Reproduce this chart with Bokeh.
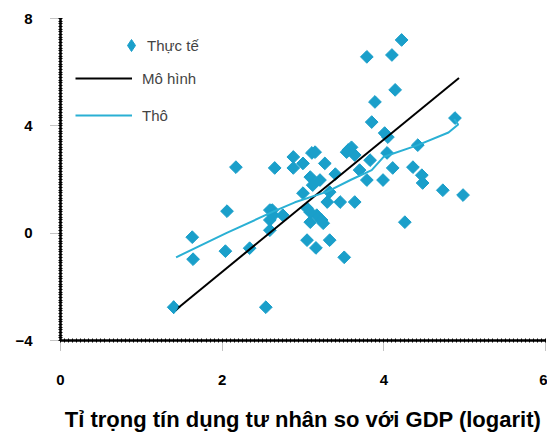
from bokeh.plotting import figure
from bokeh.models import Range1d, Legend, LegendItem, FixedTicker
from bokeh.embed import file_html
from bokeh.resources import INLINE
import math

# Observed points (x: log private credit / GDP, y)
actual_x = [1.40, 1.63, 1.64, 2.06, 2.04, 2.34, 2.54, 2.17, 2.65, 2.62,
            2.88, 2.88, 3.11, 3.00, 3.27, 3.09, 3.21, 3.56, 3.64, 3.83,
            3.70, 3.99, 3.79, 4.05, 3.33, 3.30, 3.46, 3.64, 2.59, 2.63,
            2.75, 2.59, 3.05, 3.17, 3.23, 3.05, 3.16, 3.33, 3.00, 3.12,
            3.51, 4.26, 3.09, 3.25, 3.09, 4.48, 4.73, 4.98, 4.88, 4.42,
            4.01, 4.11, 4.36, 4.47, 4.22, 3.79, 4.10, 4.14, 3.89, 3.85,
            3.60, 4.04, 2.59, 3.54, 3.15, 3.40]
actual_y = [-2.76, -0.15, -0.97, 0.82, -0.67, -0.56, -2.76, 2.46, 2.43, 0.86,
            2.84, 2.43, 2.99, 2.60, 2.60, 2.09, 1.98, 3.10, 2.91, 2.72,
            2.35, 1.98, 1.98, 3.58, 1.53, 1.16, 1.16, 1.16, 0.86, 0.67,
            0.67, 0.49, 0.93, 0.67, 0.49, -0.26, -0.55, -0.26, 1.49, 1.79,
            -0.90, 0.41, 0.41, 0.37, 0.78, 1.87, 1.60, 1.42, 4.29, 3.28,
            3.73, 2.43, 2.46, 2.16, 7.20, 6.57, 6.64, 5.34, 4.89, 4.14,
            3.20, 2.99, 0.11, 3.02, 3.02, 2.20]

# Model line
model_x = [1.42, 4.93]
model_y = [-2.87, 5.78]

# Raw fit line
raw_x = [1.43, 2.05, 2.63, 2.90, 3.30, 3.60, 3.85, 4.00, 4.42, 4.80, 4.92, 4.87]
raw_y = [-0.90, 0.00, 0.80, 1.15, 1.55, 2.00, 2.35, 2.85, 3.28, 3.75, 4.05, 4.25]

x_ticks = [0, 2, 4, 6]
y_ticks = [-4, 0, 4, 8]
x_label = "Tỉ trọng tín dụng tư nhân so với GDP (logarit)"
labels = ["Thực tế", "Mô hình", "Thô"]

FONT = "Liberation Sans"
BLUE = "#1a9fca"
LBLUE = "#2ab0d4"

p = figure(width=547, height=437, output_backend="svg", toolbar_location=None,
           x_range=Range1d(0, 6), y_range=Range1d(-4, 8),
           min_border_left=60, min_border_top=18, min_border_right=2,
           min_border_bottom=10)
p.frame_width = 485
p.frame_height = 322
p.outline_line_color = None
p.grid.visible = False
p.background_fill_color = "white"

r_pts = p.scatter(actual_x, actual_y, marker="square", size=9, angle=math.pi / 4,
                  fill_color=BLUE, line_color=BLUE)
r_model = p.line(model_x, model_y, line_color="black", line_width=2)
r_raw = p.line(raw_x, raw_y, line_color=LBLUE, line_width=2)
# legend proxy glyph (drawn over the first observed point)
r_proxy = p.scatter(actual_x[:1], actual_y[:1], marker="diamond", size=13,
                    fill_color=BLUE, line_color=BLUE)

for ax in (p.xaxis[0], p.yaxis[0]):
    ax.axis_line_color = "black"
    ax.axis_line_width = 2.5
    ax.major_tick_line_color = "#888888"
    ax.major_tick_line_dash = "1 1"
    ax.major_tick_out = 10
    ax.major_tick_in = 0
    ax.minor_tick_line_color = "black"
    ax.minor_tick_in = 2
    ax.minor_tick_out = 2
    ax.major_label_text_font = FONT
    ax.major_label_text_font_style = "bold"
    ax.major_label_text_font_size = "15px"
    ax.major_label_text_color = "black"

p.xaxis[0].ticker = FixedTicker(ticks=x_ticks, minor_ticks=[i * 0.05 for i in range(0, 121)])
p.yaxis[0].ticker = FixedTicker(ticks=y_ticks, minor_ticks=[-4 + i * 0.1 for i in range(0, 121)])
p.xaxis[0].major_label_standoff = 24
p.yaxis[0].major_label_standoff = 18

p.xaxis[0].axis_label = x_label
p.xaxis[0].axis_label_text_font = FONT
p.xaxis[0].axis_label_text_font_style = "bold"
p.xaxis[0].axis_label_text_font_size = "22px"
p.xaxis[0].axis_label_text_color = "black"
p.xaxis[0].axis_label_standoff = 19

common = dict(border_line_color=None, background_fill_alpha=0,
              spacing=15, padding=5, margin=0,
              label_text_font=FONT, label_text_font_size="15px")

legend1 = Legend(items=[LegendItem(label=labels[0], renderers=[r_proxy])],
                 location=(56, 280), glyph_width=30, glyph_height=30,
                 label_height=30, label_standoff=1, **common)
legend2 = Legend(items=[LegendItem(label=labels[1], renderers=[r_model]),
                        LegendItem(label=labels[2], renderers=[r_raw])],
                 location=(15, 214), glyph_width=57, glyph_height=22,
                 label_height=22, label_standoff=10, **common)
p.add_layout(legend1)
p.add_layout(legend2)

open("out.html", "w").write(file_html(p, INLINE))
